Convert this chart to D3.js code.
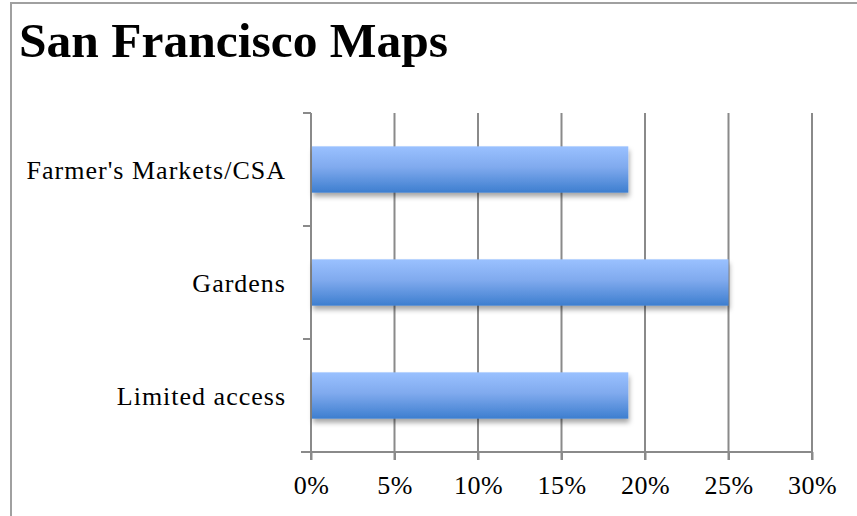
<!DOCTYPE html>
<html><head><meta charset="utf-8">
<script src="https://cdn.jsdelivr.net/npm/d3@7"></script>
<style>html,body{margin:0;padding:0;background:#fff;}svg{display:block;}</style>
</head><body>
<script>
const title = "San Francisco Maps";
const categories = ["Farmer's Markets/CSA", "Gardens", "Limited access"];
const values = [0.19, 0.25, 0.19];
const tickValues = [0, 0.05, 0.10, 0.15, 0.20, 0.25, 0.30];
const tickLabels = ["0%", "5%", "10%", "15%", "20%", "25%", "30%"];

const W = 857, H = 516;
const svg = d3.select("body").append("svg").attr("width", W).attr("height", H);

const defs = svg.append("defs");
const grad = defs.append("linearGradient").attr("id", "barGrad")
  .attr("x1", 0).attr("y1", 0).attr("x2", 0).attr("y2", 1);
grad.append("stop").attr("offset", "0%").attr("stop-color", "#9ac1ff");
grad.append("stop").attr("offset", "45%").attr("stop-color", "#80aaee");
grad.append("stop").attr("offset", "100%").attr("stop-color", "#3d7ecf");
const f = defs.append("filter").attr("id", "shadow")
  .attr("x", "-5%").attr("y", "-20%").attr("width", "115%").attr("height", "160%");
f.append("feDropShadow").attr("dx", 1).attr("dy", 4).attr("stdDeviation", 2.5)
  .attr("flood-color", "#000").attr("flood-opacity", 0.35);

// frame
svg.append("path").attr("d", `M11,${H} L11,3 L${W},3`)
  .attr("fill", "none").attr("stroke", "#a0a0a0").attr("stroke-width", 2);

svg.append("text").attr("x", 19).attr("y", 57)
  .attr("font-family", "Liberation Serif, serif").attr("font-weight", "bold")
  .attr("font-size", 49.5).attr("fill", "#000").text(title);

const x = d3.scaleLinear().domain([0, 0.30]).range([311, 812]);
const y = d3.scaleBand().domain(categories).range([113, 452]).paddingInner(0.59).paddingOuter(0.295);
const yb = d3.scaleLinear().domain([0, categories.length]).range([113, 452]);

const grid = svg.append("g");
grid.selectAll("line").data(tickValues.slice(1)).join("line")
  .attr("x1", d => x(d)).attr("x2", d => x(d))
  .attr("y1", 113).attr("y2", 460)
  .attr("stroke", "#8a8a8a").attr("stroke-width", 2);

// x axis
const xAxis = d3.axisBottom(x).tickValues(tickValues).tickFormat((d, i) => tickLabels[i]).tickSize(8).tickPadding(9);
const gx = svg.append("g").attr("transform", "translate(0,452)").call(xAxis);
gx.select(".domain").attr("d", "M301,0H812").attr("stroke", "#8a8a8a").attr("stroke-width", 2);
gx.selectAll(".tick line").attr("stroke", "#8a8a8a").attr("stroke-width", 2);
gx.selectAll(".tick text").attr("font-family", "Liberation Serif, serif").attr("font-size", 26)
  .attr("letter-spacing", 0.5).attr("fill", "#000").attr("dy", "0.95em");

// y axis
const gy = svg.append("g");
gy.append("line").attr("x1", 311).attr("x2", 311).attr("y1", 113).attr("y2", 460)
  .attr("stroke", "#8a8a8a").attr("stroke-width", 2);
gy.selectAll("line.t").data(d3.range(categories.length + 1)).join("line").attr("class", "t")
  .attr("x1", 303).attr("x2", 311).attr("y1", d => yb(d)).attr("y2", d => yb(d))
  .attr("stroke", "#8a8a8a").attr("stroke-width", 2);
gy.selectAll("text").data(categories).join("text")
  .attr("x", 286).attr("y", d => y(d) + y.bandwidth() / 2 + 9)
  .attr("text-anchor", "end")
  .attr("font-family", "Liberation Serif, serif").attr("font-size", 26)
  .attr("letter-spacing", 1).attr("fill", "#000").text(d => d);

// bars
svg.append("g").selectAll("rect").data(values).join("rect")
  .attr("x", x(0) + 1).attr("y", (d, i) => y(categories[i]))
  .attr("width", d => x(d) - x(0) - 1).attr("height", y.bandwidth())
  .attr("fill", "url(#barGrad)").attr("filter", "url(#shadow)");
</script>
</body></html>
